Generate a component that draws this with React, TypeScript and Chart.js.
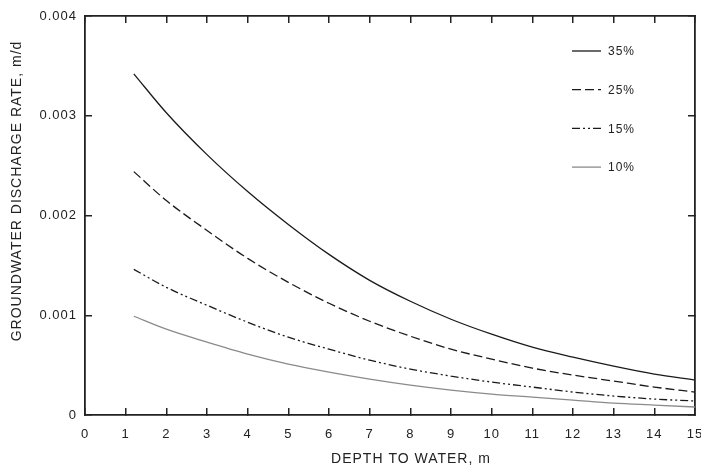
import React, { useEffect, useRef } from "react";
import { Chart, registerables } from "chart.js";

Chart.register(...registerables);

const depths = [1.2, 2, 3, 4, 5, 6, 7, 8, 9, 10, 11, 12, 13, 14, 15];
const seriesLabels = ["35%", "25%", "15%", "10%"];
const rate35 = [0.00342, 0.00303, 0.00261, 0.00224, 0.00191, 0.00161, 0.00135, 0.00114, 0.00096, 0.00081, 0.00068, 0.00058, 0.00049, 0.00041, 0.00035];
const rate25 = [0.00244, 0.00215, 0.00185, 0.00157, 0.00133, 0.00112, 0.00094, 0.00079, 0.00066, 0.00056, 0.00047, 0.0004, 0.00034, 0.00028, 0.00023];
const rate15 = [0.00146, 0.00128, 0.0011, 0.00093, 0.00078, 0.00066, 0.00055, 0.00046, 0.00039, 0.00033, 0.00028, 0.00023, 0.00019, 0.00016, 0.00014];
const rate10 = [0.00099, 0.00086, 0.00073, 0.00061, 0.00051, 0.00043, 0.00036, 0.0003, 0.00025, 0.00021, 0.00018, 0.00015, 0.00012, 0.0001, 0.00008];
const xTitle = "DEPTH TO WATER, m";
const yTitle = "GROUNDWATER DISCHARGE RATE, m/d";

const FONT = "'Liberation Sans', Arial, sans-serif";
const INK = "#222";

const spacingPlugin = {
  id: "letterSpacing",
  beforeDraw(chart: any) {
    chart.ctx.letterSpacing = "1px";
  },
};

const decorPlugin = {
  id: "decor",
  afterDraw(chart: any) {
    const ctx = chart.ctx;
    ctx.save();
    ctx.letterSpacing = "1px";
    // legend inside the plot
    chart.data.datasets.forEach((ds: any, i: number) => {
      const y = 51 + i * 38.7;
      ctx.beginPath();
      ctx.setLineDash(ds.borderDash || []);
      ctx.strokeStyle = ds.borderColor;
      ctx.lineWidth = ds.borderWidth;
      ctx.moveTo(572, y);
      ctx.lineTo(601, y);
      ctx.stroke();
      ctx.setLineDash([]);
      ctx.fillStyle = INK;
      ctx.font = `12px ${FONT}`;
      ctx.textBaseline = "middle";
      ctx.textAlign = "left";
      ctx.fillText(ds.label, 608, y + 1);
    });
    // axis titles
    ctx.font = `14px ${FONT}`;
    ctx.fillStyle = INK;
    ctx.textAlign = "center";
    ctx.textBaseline = "middle";
    ctx.fillText(xTitle, 411, 459);
    ctx.translate(17, 191);
    ctx.rotate(-Math.PI / 2);
    ctx.fillText(yTitle, 0, 0);
    ctx.restore();
  },
};

const noPad = (s: any) => {
  s.paddingLeft = 0;
  s.paddingRight = 0;
  s.paddingTop = 0;
  s.paddingBottom = 0;
};

export default function App() {
  const ref = useRef<HTMLCanvasElement>(null);
  useEffect(() => {
    document.body.style.margin = "0";
    const mk = (arr: number[]) => depths.map((x, i) => ({ x, y: arr[i] }));
    const colors = ["#1a1a1a", "#1a1a1a", "#1a1a1a", "#8a8a8a"];
    const dashes = [[], [9, 4], [8, 3, 2, 3, 2, 3], []];
    const values = [rate35, rate25, rate15, rate10];
    const gridOpts = { drawOnChartArea: false, tickLength: -7, color: INK, lineWidth: 1.5 };
    const borderOpts = { color: INK, width: 1.8 };
    const chart = new Chart(ref.current!, {
      type: "line",
      data: {
        datasets: values.map((v, i) => ({
          label: seriesLabels[i],
          data: mk(v),
          borderColor: colors[i],
          borderWidth: 1.3,
          borderDash: dashes[i],
          pointRadius: 0,
          cubicInterpolationMode: "monotone",
          fill: false,
        })),
      },
      options: {
        animation: false,
        responsive: true,
        maintainAspectRatio: false,
        layout: { padding: { left: 0, right: 6, top: 16, bottom: 0 } },
        plugins: { legend: { display: false }, tooltip: { enabled: false } },
        scales: {
          x: {
            type: "linear",
            min: 0,
            max: 15,
            position: "bottom",
            afterFit: (s: any) => { s.height = 55; noPad(s); },
            ticks: { stepSize: 1, color: INK, font: { family: FONT, size: 13 }, padding: 19, maxRotation: 0 },
            grid: gridOpts,
            border: borderOpts,
          },
          x2: {
            type: "linear",
            min: 0,
            max: 15,
            position: "top",
            afterFit: (s: any) => { s.height = 0; noPad(s); },
            ticks: { stepSize: 1, display: false },
            grid: gridOpts,
            border: borderOpts,
          },
          y: {
            type: "linear",
            min: 0,
            max: 0.004,
            position: "left",
            afterFit: (s: any) => { s.width = 85; noPad(s); },
            ticks: {
              stepSize: 0.001,
              color: INK,
              font: { family: FONT, size: 13 },
              padding: 15,
              callback: (v: any) => (v === 0 ? "0" : Number(v).toFixed(3)),
            },
            grid: gridOpts,
            border: borderOpts,
          },
          y2: {
            type: "linear",
            min: 0,
            max: 0.004,
            position: "right",
            afterFit: (s: any) => { s.width = 0; noPad(s); },
            ticks: { stepSize: 0.001, display: false },
            grid: gridOpts,
            border: borderOpts,
          },
        },
      } as any,
      plugins: [spacingPlugin, decorPlugin],
    });
    return () => chart.destroy();
  }, []);
  return (
    <div style={{ width: 701, height: 470, position: "relative" }}>
      <canvas ref={ref} />
    </div>
  );
}
